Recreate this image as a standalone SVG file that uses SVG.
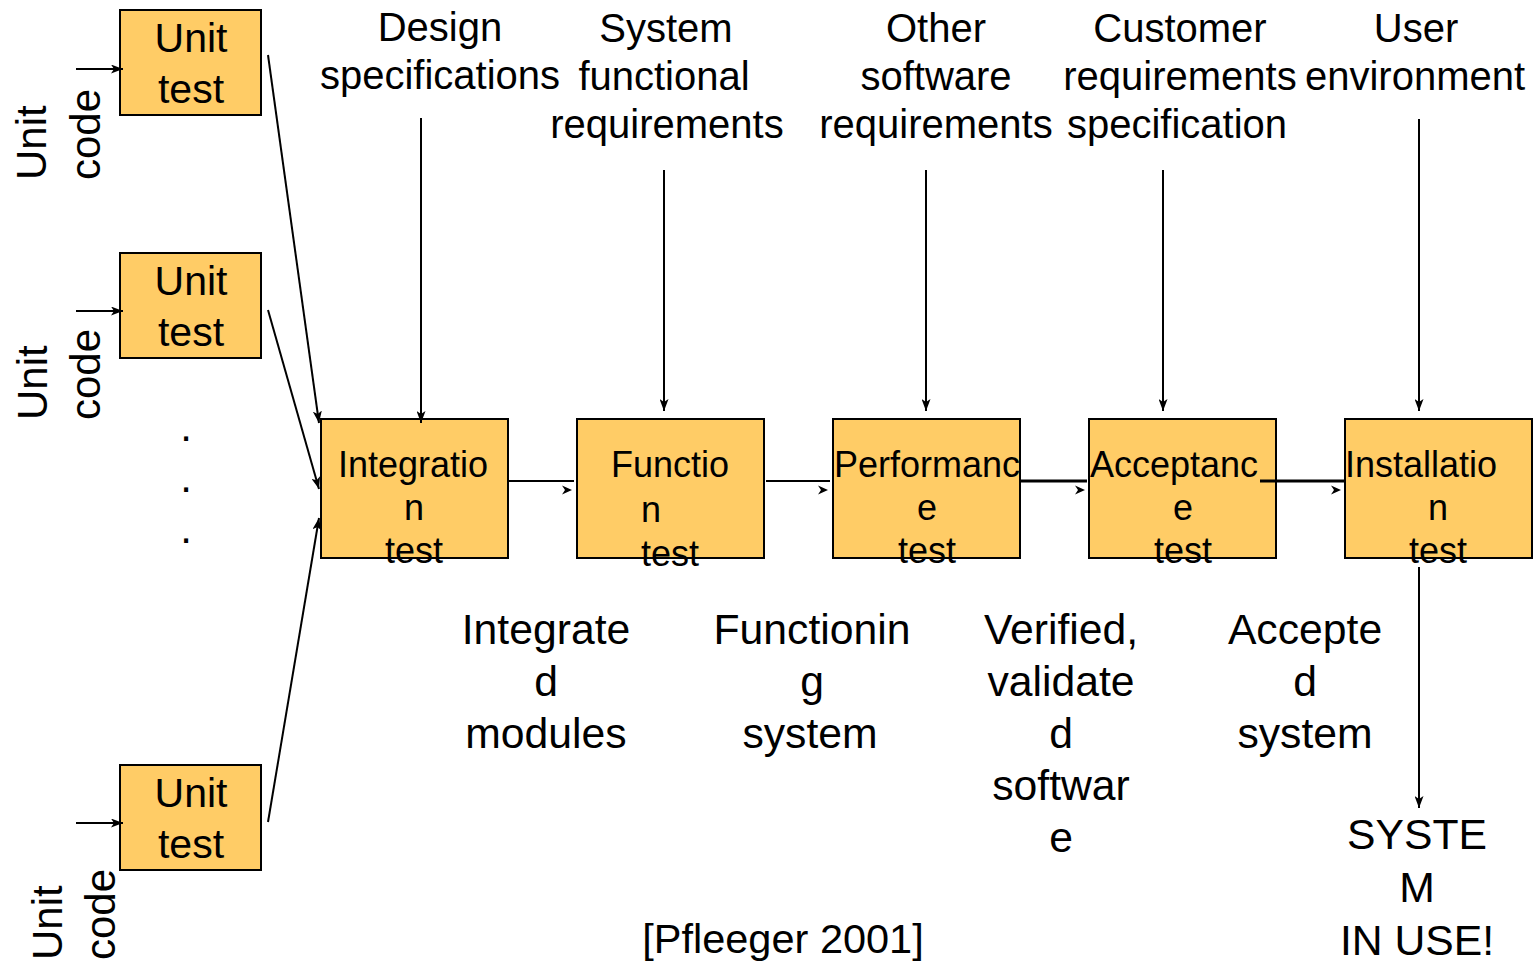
<svg xmlns="http://www.w3.org/2000/svg" xmlns:xlink="http://www.w3.org/1999/xlink" width="1540" height="966" viewBox="0 0 1540 966">
<style>
.box{fill:#FFCC66;stroke:#000;stroke-width:2}
.t{font-family:"Liberation Sans",Arial,sans-serif;fill:#000}
.lbl{font-size:40px;text-anchor:middle}
.bt{font-size:36px;text-anchor:middle}
.ut{font-size:41px;text-anchor:middle}
.rot{font-size:42px}
.out{font-size:42.7px;text-anchor:middle}
.ln{stroke:#000;stroke-width:2;fill:none}
.thick{stroke-width:3}
</style>
<defs>
<marker id="ah" viewBox="0 0 12 9" refX="12" refY="4.5" markerWidth="12" markerHeight="9" orient="auto" markerUnits="userSpaceOnUse">
<path d="M0,0 L12,4.5 L0,9 L3,4.5 z" fill="#000"/>
</marker>
<path id="hh" d="M-10,-4.5 L0,0 L-10,4.5 L-7,0 z" fill="#000"/>
</defs>
<rect width="1540" height="966" fill="#fff"/>

<g id="unit1">
<rect class="box" x="120" y="10" width="141" height="105"/>
<text class="t ut" x="191" y="52">Unit</text>
<text class="t ut" x="191" y="103">test</text>
</g>
<g id="unit2">
<rect class="box" x="120" y="253" width="141" height="105"/>
<text class="t ut" x="191" y="295">Unit</text>
<text class="t ut" x="191" y="346">test</text>
</g>
<g id="unit3">
<rect class="box" x="120" y="765" width="141" height="105"/>
<text class="t ut" x="191" y="807">Unit</text>
<text class="t ut" x="191" y="858">test</text>
</g>

<g id="unitcode1">
<text class="t rot" transform="translate(46,180) rotate(-90)">Unit</text>
<text class="t rot" transform="translate(100,180) rotate(-90)">code</text>
</g>
<g id="unitcode2">
<text class="t rot" transform="translate(47,420) rotate(-90)">Unit</text>
<text class="t rot" transform="translate(100,420) rotate(-90)">code</text>
</g>
<g id="unitcode3">
<text class="t rot" transform="translate(62,960) rotate(-90)">Unit</text>
<text class="t rot" transform="translate(115,960) rotate(-90)">code</text>
</g>

<g id="dots">
<text class="t" x="186" y="441" font-size="42" text-anchor="middle">.</text>
<text class="t" x="186" y="492" font-size="42" text-anchor="middle">.</text>
<text class="t" x="186" y="543" font-size="42" text-anchor="middle">.</text>
</g>

<g id="integration">
<rect class="box" x="321" y="419" width="187" height="139"/>
<text class="t bt" x="413" y="477">Integratio</text>
<text class="t bt" x="414" y="520">n</text>
<text class="t bt" x="414" y="563">test</text>
</g>
<g id="function">
<rect class="box" x="577" y="419" width="187" height="139"/>
<text class="t bt" x="670" y="477">Functio</text>
<text class="t bt" x="651" y="522">n</text>
<text class="t bt" x="670" y="566">test</text>
</g>
<g id="performance">
<rect class="box" x="833" y="419" width="187" height="139"/>
<text class="t bt" x="927" y="477">Performanc</text>
<text class="t bt" x="927" y="520">e</text>
<text class="t bt" x="927" y="563">test</text>
</g>
<g id="acceptance">
<rect class="box" x="1089" y="419" width="187" height="139"/>
<text class="t bt" x="1174" y="477">Acceptanc</text>
<text class="t bt" x="1183" y="520">e</text>
<text class="t bt" x="1183" y="563">test</text>
</g>
<g id="installation">
<rect class="box" x="1345" y="419" width="187" height="139"/>
<text class="t bt" x="1421" y="477">Installatio</text>
<text class="t bt" x="1438" y="520">n</text>
<text class="t bt" x="1438" y="563">test</text>
</g>

<g id="inputs">
<text class="t lbl" x="440" y="41">Design</text>
<text class="t lbl" x="440" y="89">specifications</text>
<text class="t lbl" x="666" y="42">System</text>
<text class="t lbl" x="664" y="90">functional</text>
<text class="t lbl" x="667" y="138">requirements</text>
<text class="t lbl" x="936" y="42">Other</text>
<text class="t lbl" x="936" y="90">software</text>
<text class="t lbl" x="936" y="138">requirements</text>
<text class="t lbl" x="1180" y="42">Customer</text>
<text class="t lbl" x="1180" y="90">requirements</text>
<text class="t lbl" x="1177" y="138">specification</text>
<text class="t lbl" x="1416" y="42">User</text>
<text class="t lbl" x="1415" y="90">environment</text>
</g>

<g id="outputs">
<text class="t out" x="546" y="644">Integrate</text>
<text class="t out" x="546" y="696">d</text>
<text class="t out" x="546" y="748">modules</text>
<text class="t out" x="812" y="644">Functionin</text>
<text class="t out" x="812" y="696">g</text>
<text class="t out" x="810" y="748">system</text>
<text class="t out" x="1061" y="644">Verified,</text>
<text class="t out" x="1061" y="696">validate</text>
<text class="t out" x="1061" y="748">d</text>
<text class="t out" x="1061" y="800">softwar</text>
<text class="t out" x="1061" y="852">e</text>
<text class="t out" x="1305" y="644">Accepte</text>
<text class="t out" x="1305" y="696">d</text>
<text class="t out" x="1305" y="748">system</text>
</g>

<g id="system-in-use">
<text class="t out" x="1417" y="849">SYSTE</text>
<text class="t out" x="1417" y="902">M</text>
<text class="t out" x="1417" y="955">IN USE!</text>
</g>

<g id="citation">
<text class="t" x="783" y="953" font-size="41.5" text-anchor="middle">[Pfleeger 2001]</text>
</g>

<g id="connectors">
<line class="ln" x1="76" y1="69" x2="123" y2="69" marker-end="url(#ah)"/>
<line class="ln" x1="76" y1="311" x2="123" y2="311" marker-end="url(#ah)"/>
<line class="ln" x1="76" y1="823" x2="123" y2="823" marker-end="url(#ah)"/>

<line class="ln" x1="268" y1="55" x2="319" y2="423" marker-end="url(#ah)"/>
<line class="ln" x1="268" y1="310" x2="319" y2="489" marker-end="url(#ah)"/>
<line class="ln" x1="268" y1="822" x2="319" y2="518" marker-end="url(#ah)"/>

<line class="ln" x1="421" y1="118" x2="421" y2="423" marker-end="url(#ah)"/>
<line class="ln" x1="664" y1="170" x2="664" y2="411" marker-end="url(#ah)"/>
<line class="ln" x1="926" y1="170" x2="926" y2="411" marker-end="url(#ah)"/>
<line class="ln" x1="1163" y1="170" x2="1163" y2="411" marker-end="url(#ah)"/>
<line class="ln" x1="1419" y1="119" x2="1419" y2="411" marker-end="url(#ah)"/>

<line class="ln" x1="508" y1="481" x2="574" y2="481"/>
<use xlink:href="#hh" x="572" y="490"/>
<line class="ln" x1="766" y1="481" x2="830" y2="481"/>
<use xlink:href="#hh" x="828" y="490"/>
<line class="ln thick" x1="1021" y1="481" x2="1087" y2="481"/>
<use xlink:href="#hh" x="1085" y="490"/>
<line class="ln thick" x1="1260" y1="481" x2="1344" y2="481"/>
<use xlink:href="#hh" x="1341" y="490"/>

<line class="ln" x1="1419" y1="567" x2="1419" y2="808" marker-end="url(#ah)"/>
</g>
</svg>
